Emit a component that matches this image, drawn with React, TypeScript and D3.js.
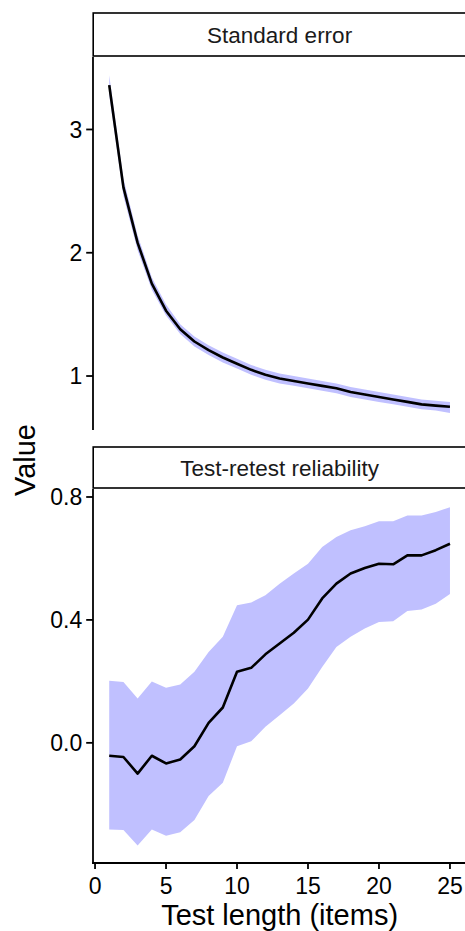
import React from "react";
import * as d3 from "d3";

const testLength = [1,2,3,4,5,6,7,8,9,10,11,12,13,14,15,16,17,18,19,20,21,22,23,24,25];
const seMean = [3.36,2.53,2.08,1.75,1.53,1.38,1.28,1.21,1.15,1.10,1.05,1.01,0.98,0.96,0.94,0.92,0.90,0.87,0.85,0.83,0.81,0.79,0.77,0.76,0.75];
const seLow = [3.28,2.46,2.02,1.70,1.49,1.34,1.24,1.17,1.11,1.06,1.01,0.97,0.94,0.92,0.90,0.88,0.86,0.83,0.81,0.79,0.77,0.75,0.73,0.72,0.70];
const seHigh = [3.44,2.60,2.14,1.80,1.58,1.42,1.32,1.25,1.19,1.14,1.09,1.05,1.02,1.00,0.98,0.96,0.94,0.91,0.89,0.87,0.85,0.83,0.81,0.80,0.79];
const relMean = [-0.042,-0.046,-0.100,-0.042,-0.067,-0.054,-0.011,0.065,0.115,0.231,0.244,0.288,0.323,0.358,0.401,0.470,0.518,0.551,0.569,0.583,0.581,0.610,0.610,0.627,0.648];
const relLow = [-0.282,-0.284,-0.334,-0.282,-0.302,-0.291,-0.251,-0.173,-0.130,-0.011,0.005,0.052,0.090,0.128,0.177,0.247,0.312,0.345,0.372,0.393,0.396,0.429,0.434,0.453,0.484];
const relHigh = [0.202,0.198,0.144,0.200,0.179,0.190,0.231,0.296,0.345,0.448,0.457,0.480,0.518,0.551,0.583,0.637,0.670,0.692,0.705,0.721,0.721,0.740,0.740,0.751,0.767];

const xTicks = [0,5,10,15,20,25];
const seTicks = [1,2,3];
const relTicks = [0.0,0.4,0.8];
const panelTitles = ["Standard error", "Test-retest reliability"];
const xTitle = "Test length (items)";
const yTitle = "Value";

const FONT = "'Liberation Sans', Arial, sans-serif";
const RIBBON = "#C0C0FF";

export default function App() {
  const left = 92.2, right = 467;
  const x = d3.scaleLinear().domain([-0.2, 26.2]).range([left, right]);
  const panels = [
    { title: panelTitles[0], top: 57, bottom: 430, stripTop: 13, stripBottom: 56,
      y: d3.scaleLinear().domain([0.562, 3.588]).range([430, 57]),
      mean: seMean, low: seLow, high: seHigh, ticks: seTicks, fmt: (v: number) => String(v) },
    { title: panelTitles[1], top: 489, bottom: 863, stripTop: 447, stripBottom: 488,
      y: d3.scaleLinear().domain([-0.391, 0.826]).range([863, 489]),
      mean: relMean, low: relLow, high: relHigh, ticks: relTicks, fmt: (v: number) => v.toFixed(1) },
  ];

  return (
    <svg width={465} height={931} style={{ position: "absolute", left: 0, top: 0, background: "#fff" }} fontFamily={FONT}>
      <rect x={0} y={0} width={465} height={931} fill="#fff" />
      {panels.map((p, pi) => {
        const area = d3.area<number>()
          .x((_, i) => x(testLength[i]))
          .y0((_, i) => p.y(p.low[i]))
          .y1((_, i) => p.y(p.high[i]));
        const line = d3.line<number>()
          .x((_, i) => x(testLength[i]))
          .y((d) => p.y(d));
        return (
          <g key={pi}>
            <rect x={left + 1} y={p.stripTop} width={right - left + 10} height={p.stripBottom - p.stripTop}
              fill="#fff" stroke="#000" strokeWidth={1.6} />
            <text x={(left + right) / 2} y={(p.stripTop + p.stripBottom) / 2 + 8.5} textAnchor="middle"
              fontSize={22.5} fill="#1a1a1a">{p.title}</text>
            <path d={area(p.mean) || ""} fill={RIBBON} />
            <path d={line(p.mean) || ""} fill="none" stroke="#000" strokeWidth={2.6} strokeLinejoin="round" />
            <line x1={left + 0.8} x2={left + 0.8} y1={p.top} y2={p.bottom + (pi === 1 ? 1 : 0)} stroke="#000" strokeWidth={1.8} />
            {p.ticks.map((t) => (
              <g key={t}>
                <line x1={left - 6} x2={left + 0.8} y1={p.y(t)} y2={p.y(t)} stroke="#000" strokeWidth={1.8} />
                <text x={left - 10} y={p.y(t)} dy="0.36em" textAnchor="end" fontSize={23} fill="#000">{p.fmt(t)}</text>
              </g>
            ))}
          </g>
        );
      })}
      <line x1={left} x2={right} y1={863} y2={863} stroke="#000" strokeWidth={1.8} />
      {xTicks.map((t) => (
        <g key={t}>
          <line x1={x(t)} x2={x(t)} y1={863} y2={869} stroke="#000" strokeWidth={1.8} />
          <text x={x(t)} y={893.5} textAnchor="middle" fontSize={23} fill="#000">{t}</text>
        </g>
      ))}
      <text x={(left + right) / 2} y={925} textAnchor="middle" fontSize={29} fill="#000">{xTitle}</text>
      <text transform={`translate(35,460) rotate(-90)`} textAnchor="middle" fontSize={29} fill="#000">{yTitle}</text>
    </svg>
  );
}
